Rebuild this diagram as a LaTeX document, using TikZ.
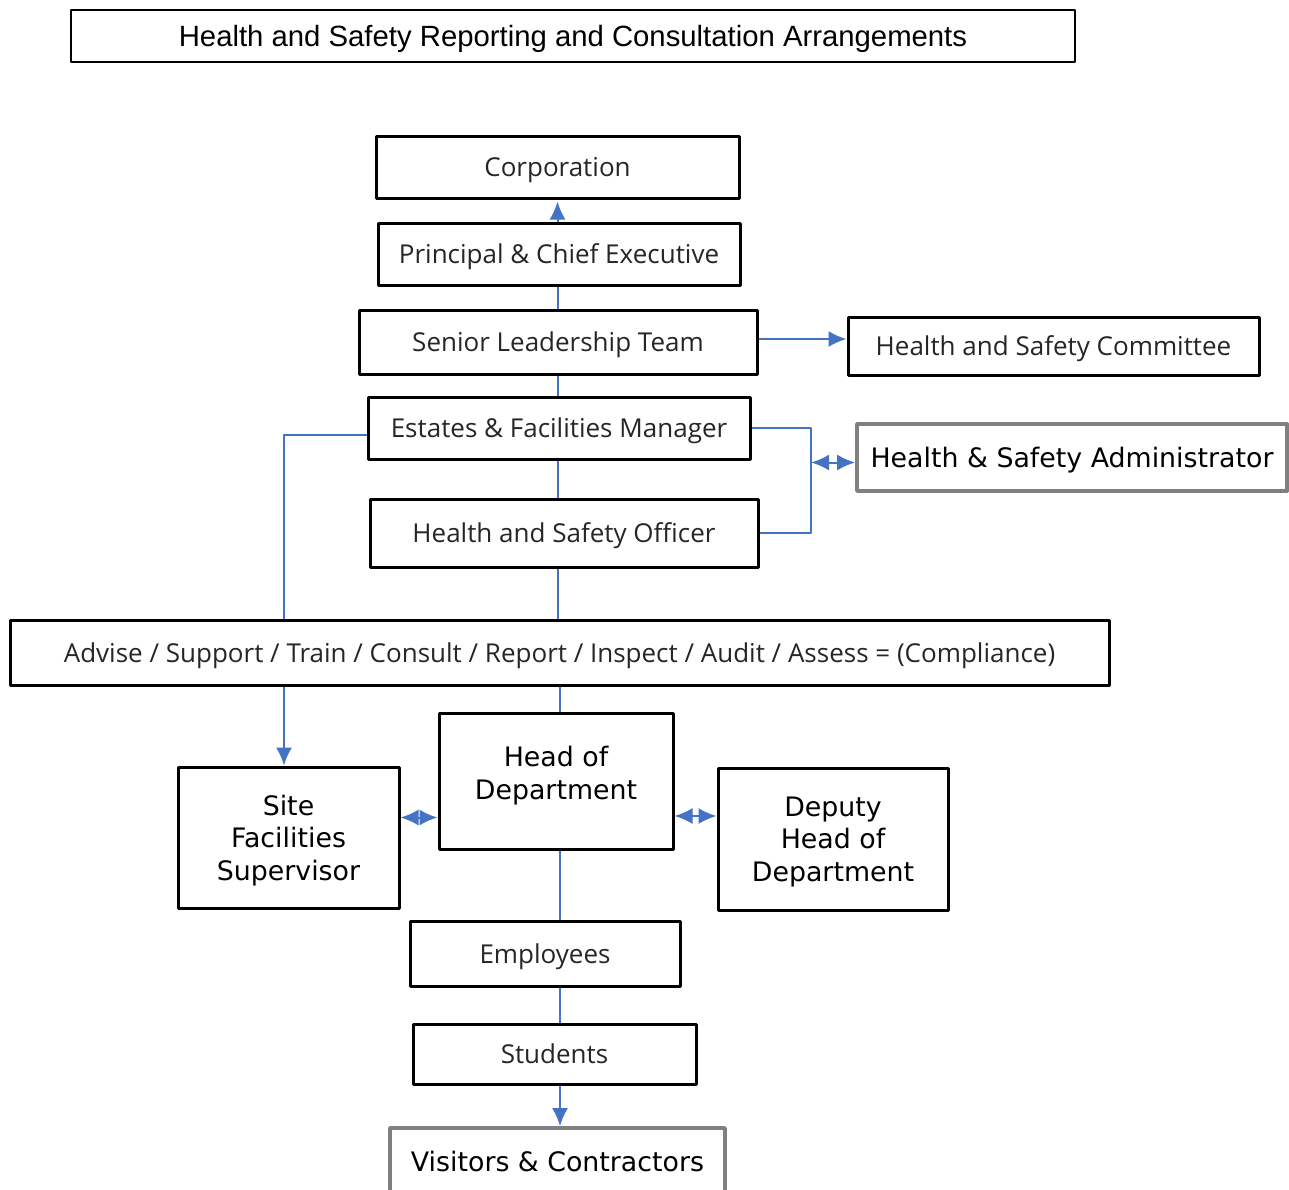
\documentclass[tikz,border=0pt]{standalone}
\usepackage{fontspec}
\setmainfont{DejaVu Sans}
\newfontfamily\uifont{Open Sans}
\newfontfamily\arialfont{Liberation Sans}
\usetikzlibrary{arrows.meta,positioning}
\definecolor{link_blue}{RGB}{68,114,196}
\definecolor{frame_gray}{RGB}{128,128,128}
\definecolor{text_gray}{RGB}{38,38,38}

\begin{document}
\begin{tikzpicture}[x=1pt,y=-1pt,line join=round,
	box/.style={draw=black,line width=3pt,inner sep=0pt,align=center,text depth=0pt},
	smallbox/.style={box,font=\uifont\fontsize{26}{30}\selectfont,text=text_gray},
	bigbox/.style={box,font=\fontsize{26.8}{32.5}\selectfont},
	graybox/.style={bigbox,draw=frame_gray,line width=3.8pt},
	link/.style={link_blue,line width=1.6pt},
	tip/.style={link,line width=2pt,-{Latex[length=18pt,width=16pt]}},
	twotip/.style={link,line width=2pt,{Latex[length=18pt,width=16pt]}-{Latex[length=18pt,width=16pt]}}]
	\useasboundingbox[fill=white] (0,0) rectangle (1289,1189);
	\node[draw,line width=1.4pt,minimum width=1004pt,minimum height=52pt,inner sep=0pt,text depth=0pt,
		font=\arialfont\fontsize{29.3}{32}\selectfont] (title) at (573,36)
		{Health and Safety Reporting and Consultation Arrangements};
	\node[smallbox,minimum width=363pt,minimum height=62pt] (corp)  at (557.5,167) {Corporation};
	\node[smallbox,minimum width=362pt,minimum height=62pt] (princ) at (559,254) {Principal \& Chief Executive};
	\node[smallbox,minimum width=398pt,minimum height=64pt] (slt)   at (558,342) {Senior Leadership Team};
	\node[smallbox,minimum width=411pt,minimum height=58pt] (hsc)   at (1053.5,346) {Health and Safety Committee};
	\node[smallbox,minimum width=382pt,minimum height=62pt] (efm)   at (559,428) {Estates \& Facilities Manager};
	\node[smallbox,minimum width=388pt,minimum height=68pt] (hso)   at (564,533) {Health and Safety Officer};
	\node[graybox,minimum width=430pt,minimum height=67pt]  (hsa)   at (1072,457.5) {Health \& Safety Administrator};
	\node[smallbox,minimum width=1099pt,minimum height=65pt] (advise) at (559.5,652.5)
		{Advise / Support / Train / Consult / Report / Inspect / Audit / Assess = (Compliance)};
	\node[bigbox,minimum width=234pt,minimum height=136pt]  (hod)   at (556,781) {Head of\\Department\\[-16pt]};
	\node[bigbox,minimum width=221pt,minimum height=141pt]  (sfs)   at (288.5,837.5) {Site\\Facilities\\Supervisor};
	\node[bigbox,minimum width=230pt,minimum height=142pt]  (dep)   at (833,839) {Deputy\\Head of\\Department};
	\node[smallbox,minimum width=270pt,minimum height=65pt] (emp)   at (545,953.5) {Employees};
	\node[smallbox,minimum width=283pt,minimum height=60pt] (stud)  at (554.5,1054) {Students};
	\node[graybox,minimum width=335pt,minimum height=66pt]  (vis)   at (557.5,1161) {Visitors \& Contractors};

	\coordinate (bartop) at (811,428);
	\coordinate (barbot) at (811,533);
	\coordinate (leftbend) at (284,435);
	\coordinate (spine) at (560,0);

	\draw[tip] (princ.north -| corp.south) -- ([yshift=-2pt]corp.south);
	\draw[link] (princ.south -| slt.north) -- (slt.north);
	\draw[tip] ([yshift=3pt]slt.east) -- ([yshift=3pt]slt.east -| hsc.west);
	\draw[link] (slt.south) -- (slt.south |- efm.north);
	\draw[link] (efm.south -| slt.south) -- (hso.north -| slt.south);
	\draw[link] (efm.east) -- (bartop) -- (barbot) -- (hso.east);
	\draw[twotip] ([yshift=-5pt]bartop |- hsa.west) -- ([yshift=-5pt]hsa.west);
	\draw[link] (hso.south -| slt.south) -- (advise.north -| slt.south);
	\draw[link] (efm.west |- leftbend) -- (leftbend) -- (leftbend |- advise.north);
	\draw[tip] (leftbend |- advise.south) -- (leftbend |- sfs.north);
	\draw[link] (advise.south -| spine) -- (hod.north -| spine);
	\draw[twotip] ([yshift=20pt]sfs.east) -- ([yshift=20pt]sfs.east -| hod.west);
	\draw[twotip] ([yshift=-35pt]hod.east) -- ([yshift=-35pt]hod.east -| dep.west);
	\draw[link] (hod.south -| spine) -- (emp.north -| spine);
	\draw[link] (emp.south -| spine) -- (stud.north -| spine);
	\draw[tip] (stud.south -| spine) -- (vis.north -| spine);
\end{tikzpicture}
\end{document}
